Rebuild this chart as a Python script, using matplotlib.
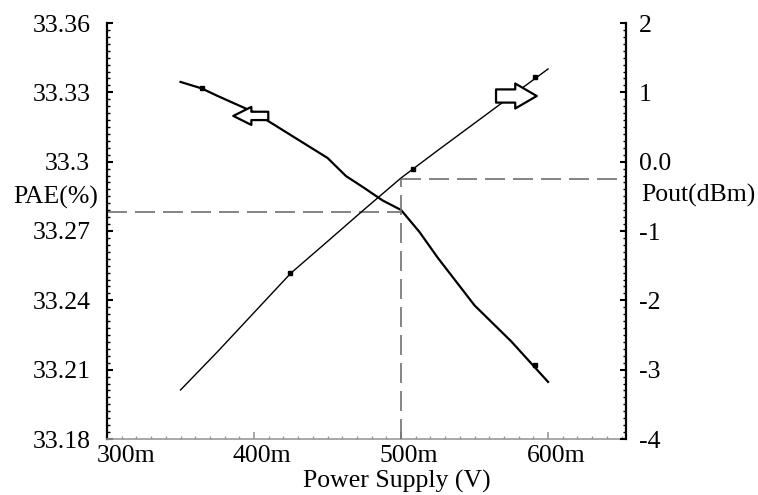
import numpy as np
import matplotlib
matplotlib.use('Agg')
import matplotlib.pyplot as plt
from matplotlib.ticker import MultipleLocator
from matplotlib.transforms import ScaledTranslation

plt.rcParams['font.family'] = ['Liberation Serif', 'DejaVu Serif']

# PAE (%) vs supply voltage (left axis)
pae_x = [0.350, 0.3644, 0.375, 0.400, 0.425, 0.450, 0.4625, 0.475, 0.4875,
         0.500, 0.5125, 0.525, 0.550, 0.575, 0.600]
pae_y = [33.3345, 33.3317, 33.3285, 33.3214, 33.3115, 33.3016, 33.2938, 33.2886,
         33.2832, 33.2791, 33.2696, 33.2584, 33.2378, 33.2222, 33.2047]
pae_mark_x = [0.3644, 0.591]
pae_mark_y = [33.3317, 33.2120]

# Pout (dBm) vs supply voltage (right axis)
pout_x = [0.350, 0.375, 0.400, 0.425, 0.450, 0.475, 0.500, 0.525, 0.550, 0.575, 0.600]
pout_y = [-3.293, -2.745, -2.177, -1.609, -1.150, -0.688, -0.235, 0.163, 0.555, 0.947, 1.337]
pout_mark_x = [0.4245, 0.5082, 0.5912]
pout_mark_y = [-1.606, -0.100, 1.217]

# reference point (dashed guides)
ref_x = 0.5
ref_pae = 33.2784
ref_pout = -0.254

x_ticks = [0.3, 0.4, 0.5, 0.6]
x_labels = ['300m', '400m', '500m', '600m']
pae_ticks = [33.18, 33.21, 33.24, 33.27, 33.30, 33.33, 33.36]
pae_labels = ['33.18', '33.21', '33.24', '33.27', '33.3', '33.33', '33.36']
pout_ticks = [-4, -3, -2, -1, 0, 1, 2]
pout_labels = ['-4', '-3', '-2', '-1', '0.0', '1', '2']

fig = plt.figure(figsize=(7.58, 4.95), dpi=100)
ax = fig.add_axes([107 / 758, 56 / 495, 519 / 758, 416 / 495])
ax2 = ax.twinx()

fs = 18.5

# left axis
ax.plot(pae_x, pae_y, color='black', lw=1.6)
ax.plot(pae_mark_x, pae_mark_y, 's', color='black', ms=2.5)
ax.set_xlim(0.3, 0.653)
ax.set_ylim(33.18, 33.36)
ax.set_xticks(x_ticks)
ax.set_xticklabels(x_labels)
ax.set_yticks(pae_ticks)
ax.set_yticklabels(pae_labels)
ax.xaxis.set_minor_locator(MultipleLocator(0.01))
ax.yaxis.set_minor_locator(MultipleLocator(0.003))
ax.tick_params(axis='y', which='major', direction='in', length=4, width=1.5,
               labelsize=fs, pad=12)
ax.tick_params(axis='y', which='minor', direction='in', length=2.2, width=1)
ax.tick_params(axis='x', which='major', direction='in', length=5, width=1.2,
               color='#999999', labelsize=fs, pad=4)
ax.tick_params(axis='x', which='minor', direction='in', length=2, width=1,
               color='#999999')
ax.spines['top'].set_visible(False)
ax.spines['right'].set_visible(False)
ax.spines['left'].set_linewidth(1.6)
ax.spines['bottom'].set_linewidth(1.2)
ax.spines['bottom'].set_color('#999999')

# shift x tick labels slightly right like the original
offsets = [19, 8, 8, 8]
for lab, dx in zip(ax.get_xticklabels(), offsets):
    lab.set_transform(lab.get_transform() + ScaledTranslation(dx / 100, 0, fig.dpi_scale_trans))

# right axis
ax2.plot(pout_x, pout_y, color='black', lw=1.0)
ax2.plot(pout_mark_x, pout_mark_y, 's', color='black', ms=2.5)
ax2.set_ylim(-4, 2)
ax2.set_yticks(pout_ticks)
ax2.set_yticklabels(pout_labels)
ax2.yaxis.set_minor_locator(MultipleLocator(0.1))
ax2.tick_params(axis='y', which='major', direction='in', length=4, width=1.5,
                labelsize=fs, pad=9)
ax2.tick_params(axis='y', which='minor', direction='in', length=2.2, width=1)
for s in ['left', 'top', 'bottom']:
    ax2.spines[s].set_visible(False)
ax2.spines['right'].set_linewidth(1.6)

# dashed guide lines
dash = dict(color='#707070', lw=1.2, dashes=(12, 4.8))
ax.plot([0.3, ref_x], [ref_pae, ref_pae], **dash)
ax2.plot([ref_x, 0.653], [ref_pout, ref_pout], **dash)
ax2.plot([ref_x, ref_x], [-4, ref_pout], **dash)

# hollow arrows pointing to each curve's axis
ax.annotate('', xy=(0.3859, 33.3198), xytext=(0.4097, 33.3198),
            arrowprops=dict(arrowstyle='simple,head_length=13,head_width=13,tail_width=6',
                            mutation_scale=1, fc='white', ec='black', lw=1.6,
                            shrinkA=0, shrinkB=0))
ax2.annotate('', xy=(0.5923, 0.947), xytext=(0.5646, 0.947),
             arrowprops=dict(arrowstyle='simple,head_length=15.5,head_width=18,tail_width=9.5',
                             mutation_scale=1, fc='white', ec='black', lw=1.6,
                             shrinkA=0, shrinkB=0))

# axis titles
fig.text(98 / 758, 1 - 204 / 495, 'PAE(%)', ha='right', va='baseline', fontsize=fs)
fig.text(641 / 758, 1 - 202 / 495, 'Pout(dBm)', ha='left', va='baseline', fontsize=fs)
fig.text(397 / 758, 1 - 488 / 495, 'Power Supply (V)', ha='center', va='baseline', fontsize=fs)

fig.savefig('out.png', dpi=100, facecolor='white')
